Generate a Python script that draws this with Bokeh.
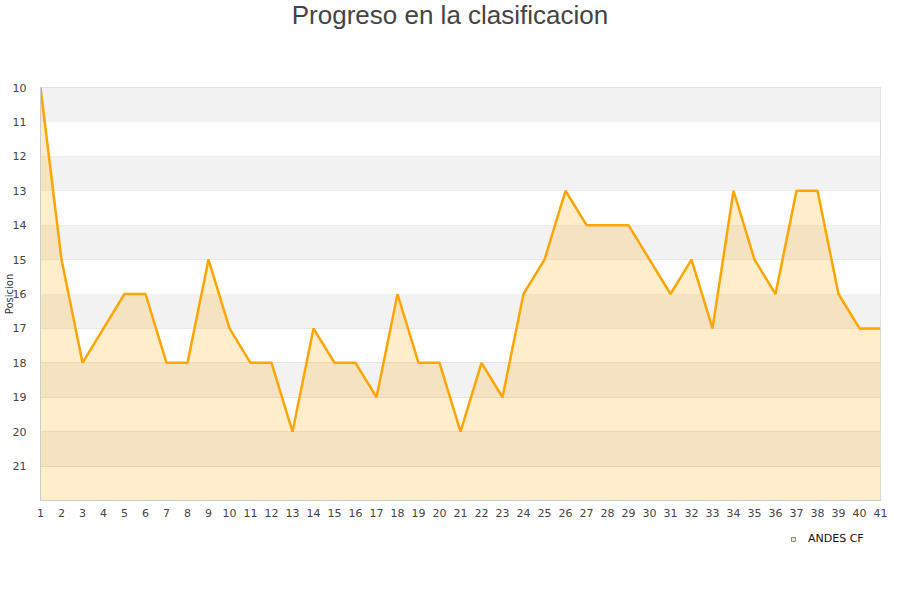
from bokeh.plotting import figure
from bokeh.models import Range1d, FixedTicker, Legend, LegendItem, ColumnDataSource, Div
from bokeh.layouts import column
from bokeh.embed import file_html
from bokeh.resources import INLINE

# Data
jornadas = list(range(1, 42))
posiciones = [10, 15, 18, 17, 16, 16, 18, 18, 15, 17, 18, 18, 20, 17, 18, 18, 19, 16, 18, 18,
              20, 18, 19, 16, 15, 13, 14, 14, 14, 15, 16, 15, 17, 13, 15, 16, 13, 13, 16, 17, 17]
equipo = "ANDES CF"
titulo = "Progreso en la clasificacion"
y_ticks = list(range(10, 22))
pos_min, pos_max = 10, 22
band_bottoms = [10, 12, 14, 16, 18, 20]

# title
title_div = Div(text=('<div style="font-family:\'Liberation Sans\';font-size:26px;color:#444444;'
                      'text-align:center;line-height:30px;width:900px;">' + titulo + '</div>'),
                width=900, height=30, styles={"margin": "0", "padding": "0"})

p = figure(frame_width=840, frame_height=413, output_backend="svg", toolbar_location=None,
           x_range=Range1d(1, 41), y_range=Range1d(pos_max, pos_min),
           min_border_left=40, min_border_right=20, min_border_top=57, min_border_bottom=0)
p.background_fill_color = "white"
p.border_fill_color = "white"
p.outline_line_color = "#dddddd"

# alternating bands
bands = ColumnDataSource(dict(bottom=band_bottoms, top=[b + 1 for b in band_bottoms],
                              left=[jornadas[0]] * len(band_bottoms), right=[jornadas[-1]] * len(band_bottoms)))
p.quad(source=bands, left="left", right="right", bottom="bottom", top="top",
       fill_color="#f2f2f2", line_color=None)

p.ygrid.ticker = FixedTicker(ticks=list(range(10, 23)))
p.ygrid.grid_line_color = "#e0e0e0"
p.xgrid.grid_line_color = None

src = ColumnDataSource(dict(x=jornadas, y=posiciones, base=[pos_max] * len(jornadas)))
p.varea(source=src, x="x", y1="y", y2="base", fill_color="#ffa500", fill_alpha=0.2)
p.line(source=src, x="x", y="y", line_color="#ffa500", line_width=2.5)

# axes
p.yaxis.ticker = FixedTicker(ticks=y_ticks)
p.xaxis.ticker = FixedTicker(ticks=jornadas)
for ax in (p.xaxis[0], p.yaxis[0]):
    ax.axis_line_color = "#cccccc"
    ax.major_tick_line_color = None
    ax.minor_tick_line_color = None
    ax.major_label_text_font = "DejaVu Sans"
    ax.major_label_text_font_size = "11px"
    ax.major_label_text_color = "#444444"
p.yaxis.major_label_standoff = 8
p.xaxis.major_label_standoff = 2
p.yaxis.axis_label = "Posicion"
p.yaxis.axis_label_text_font = "DejaVu Sans"
p.yaxis.axis_label_text_font_size = "10px"
p.yaxis.axis_label_text_font_style = "normal"
p.yaxis.axis_label_text_color = "#333333"
p.yaxis.axis_label_standoff = -5

# legend strip below the chart
p2 = figure(width=900, height=40, output_backend="svg", toolbar_location=None,
            x_range=Range1d(0, 1), y_range=Range1d(0, 1),
            x_axis_location=None, y_axis_location=None, min_border=0)
p2.outline_line_color = None
p2.grid.visible = False
p2.background_fill_color = "white"
p2.border_fill_color = "white"
legend_carrier = p2.scatter(x=[-1], y=[-1], marker="square", size=14, fill_color="#ffe9c2",
                            line_color="#888888", line_width=1)
legend = Legend(items=[LegendItem(label=equipo, renderers=[legend_carrier])],
                location=(748, 14), orientation="horizontal",
                label_text_font="DejaVu Sans", label_text_font_size="11px", label_text_color="#111111",
                border_line_color=None, background_fill_alpha=0, glyph_width=10, glyph_height=10,
                label_standoff=10, margin=0, padding=2)
p2.add_layout(legend, "center")

layout = column(title_div, p, p2, spacing=0)

open("out.html", "w").write(file_html(layout, INLINE))
